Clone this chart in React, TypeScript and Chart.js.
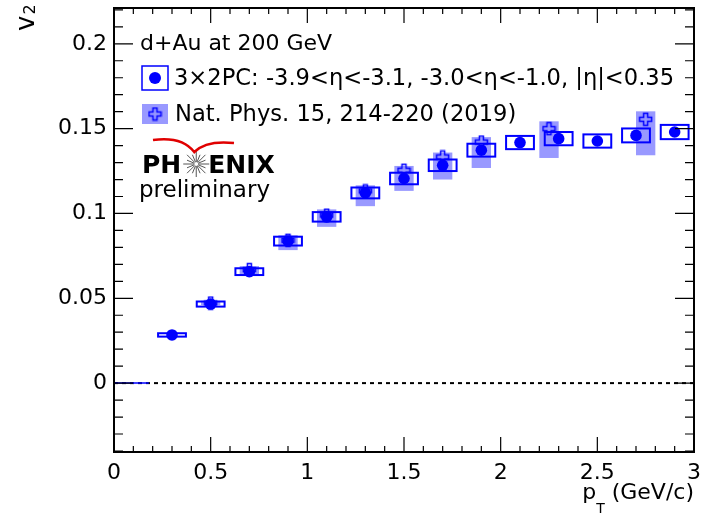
import { useEffect, useRef } from "react";
import { Chart, registerables } from "chart.js";

Chart.register(...registerables);

// ---- data: 3x2PC (this analysis) ----
const pt3x2 = [0.3, 0.5, 0.7, 0.9, 1.1, 1.3, 1.5, 1.7, 1.9, 2.1, 2.3, 2.5, 2.7, 2.9];
const v2_3x2 = [0.0284, 0.0466, 0.0657, 0.0837, 0.098, 0.1121, 0.1206, 0.1284, 0.1373, 0.1418, 0.1441, 0.1427, 0.146, 0.148];
const sys3x2 = [0.001, 0.0015, 0.002, 0.0026, 0.0028, 0.0032, 0.0034, 0.0034, 0.0038, 0.0039, 0.0039, 0.0039, 0.0041, 0.0042];
const boxHalfW3x2 = 0.072;

// ---- data: Nat. Phys. 15, 214-220 (2019) ----
const ptNat = [0.5, 0.7, 0.9, 1.1, 1.3, 1.5, 1.7, 1.9, 2.25, 2.75];
const v2Nat = [0.0472, 0.0669, 0.0842, 0.099, 0.1133, 0.1255, 0.1333, 0.1421, 0.15, 0.1555];
const natLow = [0.046, 0.0635, 0.0784, 0.0921, 0.1043, 0.1133, 0.12, 0.1268, 0.1327, 0.1343];
const natHigh = [0.0485, 0.069, 0.0872, 0.1024, 0.1166, 0.128, 0.1359, 0.145, 0.1543, 0.1602];
const boxHalfWNat = 0.05;

// short blue segment at v2 = 0
const zeroSegX = [0, 0.18];
const zeroSegY = [0, 0];

// ---- axes ----
const xMin = 0;
const xMax = 3;
const yMin = -0.0406;
const yMax = 0.2211;
const xMajorTicks = [0, 0.5, 1, 1.5, 2, 2.5, 3];
const xMinorTicks = [0.1, 0.2, 0.3, 0.4, 0.6, 0.7, 0.8, 0.9, 1.1, 1.2, 1.3, 1.4, 1.6, 1.7, 1.8, 1.9, 2.1, 2.2, 2.3, 2.4, 2.6, 2.7, 2.8, 2.9];
const yMajorTicks = [0, 0.05, 0.1, 0.15, 0.2];
const yMinorTicks = [-0.04, -0.03, -0.02, -0.01, 0.01, 0.02, 0.03, 0.04, 0.06, 0.07, 0.08, 0.09, 0.11, 0.12, 0.13, 0.14, 0.16, 0.17, 0.18, 0.19, 0.21, 0.22];

const FONT = '"DejaVu Sans", sans-serif';
const BLUE = "#0000ff";
const SHADE = "rgba(0,0,255,0.4)";

function makeCross(size: number, color: string) {
  const c = document.createElement("canvas");
  c.width = size + 3;
  c.height = size + 3;
  const g = c.getContext("2d")!;
  const o = 1.5;
  const s = size;
  const a = s / 3;
  g.beginPath();
  g.moveTo(o + a, o);
  g.lineTo(o + 2 * a, o);
  g.lineTo(o + 2 * a, o + a);
  g.lineTo(o + s, o + a);
  g.lineTo(o + s, o + 2 * a);
  g.lineTo(o + 2 * a, o + 2 * a);
  g.lineTo(o + 2 * a, o + s);
  g.lineTo(o + a, o + s);
  g.lineTo(o + a, o + 2 * a);
  g.lineTo(o, o + 2 * a);
  g.lineTo(o, o + a);
  g.lineTo(o + a, o + a);
  g.closePath();
  g.strokeStyle = color;
  g.lineWidth = 1.5;
  g.stroke();
  return c;
}

export default function App() {
  const ref = useRef<HTMLCanvasElement | null>(null);

  useEffect(() => {
    document.body.style.margin = "0";
    const canvas = ref.current!;
    const cross = makeCross(12, BLUE);

    const boxes = {
      id: "boxes",
      beforeDatasetsDraw(chart: any) {
        const { ctx, scales } = chart;
        const x = scales.x;
        const y = scales.y;
        ctx.save();
        // dashed zero line
        ctx.strokeStyle = "#000";
        ctx.lineWidth = 2;
        ctx.setLineDash([4, 4]);
        ctx.beginPath();
        const y0 = y.getPixelForValue(0);
        ctx.moveTo(chart.chartArea.left, y0);
        ctx.lineTo(chart.chartArea.right, y0);
        ctx.stroke();
        ctx.setLineDash([]);
        // shaded boxes
        ctx.fillStyle = SHADE;
        ptNat.forEach((p, i) => {
          const xa = x.getPixelForValue(p - boxHalfWNat);
          const xb = x.getPixelForValue(p + boxHalfWNat);
          const ya = y.getPixelForValue(natHigh[i]);
          const yb = y.getPixelForValue(natLow[i]);
          ctx.fillRect(xa, ya, xb - xa, yb - ya);
        });
        // open boxes
        ctx.strokeStyle = BLUE;
        ctx.lineWidth = 2;
        pt3x2.forEach((p, i) => {
          const xa = x.getPixelForValue(p - boxHalfW3x2);
          const xb = x.getPixelForValue(p + boxHalfW3x2);
          const ya = y.getPixelForValue(v2_3x2[i] + sys3x2[i]);
          const yb = y.getPixelForValue(v2_3x2[i] - sys3x2[i]);
          ctx.strokeRect(xa, ya, xb - xa, yb - ya);
        });
        ctx.restore();
      },
      afterDraw(chart: any) {
        const { ctx, scales, chartArea } = chart;
        const x = scales.x;
        const y = scales.y;
        const { left, right, top, bottom } = chartArea;
        ctx.save();
        // ticks
        ctx.strokeStyle = "#000";
        ctx.lineWidth = 1.2;
        ctx.beginPath();
        const xt = (v: number, len: number) => {
          const px = x.getPixelForValue(v);
          ctx.moveTo(px, bottom);
          ctx.lineTo(px, bottom - len);
          ctx.moveTo(px, top);
          ctx.lineTo(px, top + len);
        };
        const yt = (v: number, len: number) => {
          const py = y.getPixelForValue(v);
          ctx.moveTo(left, py);
          ctx.lineTo(left + len, py);
          ctx.moveTo(right, py);
          ctx.lineTo(right - len, py);
        };
        xMajorTicks.forEach((v) => xt(v, 15));
        xMinorTicks.forEach((v) => xt(v, 6));
        yMajorTicks.forEach((v) => yt(v, 19));
        yMinorTicks.forEach((v) => yt(v, 9));
        ctx.stroke();
        // frame
        ctx.lineWidth = 2;
        ctx.strokeRect(left, top, right - left, bottom - top);

        // axis titles
        ctx.fillStyle = "#000";
        ctx.textBaseline = "alphabetic";
        ctx.textAlign = "left";
        ctx.font = `22px ${FONT}`;
        const wP = ctx.measureText("p").width;
        const wRest = ctx.measureText(" (GeV/c)").width;
        ctx.font = `14px ${FONT}`;
        const wT = ctx.measureText("T").width;
        const sx = right - (wP + wT + wRest);
        ctx.font = `22px ${FONT}`;
        ctx.fillText("p", sx, 499);
        ctx.font = `14px ${FONT}`;
        ctx.fillText("T", sx + wP, 513);
        ctx.font = `22px ${FONT}`;
        ctx.fillText(" (GeV/c)", sx + wP + wT, 499);

        // y title: v_2 rotated
        ctx.save();
        ctx.translate(34, 31);
        ctx.rotate(-Math.PI / 2);
        ctx.font = `26px ${FONT}`;
        ctx.fillText("v", 0, 0);
        const wv = ctx.measureText("v").width;
        ctx.font = `16px ${FONT}`;
        ctx.fillText("2", wv + 1, 1);
        ctx.restore();

        // legend texts
        ctx.font = `22px ${FONT}`;
        ctx.fillText("d+Au at 200 GeV", 140, 50);
        ctx.font = `22.6px ${FONT}`;
        ctx.fillText("3\u00d72PC: -3.9<\u03b7<-3.1, -3.0<\u03b7<-1.0, |\u03b7|<0.35", 174, 85);
        ctx.fillText("Nat. Phys. 15, 214-220 (2019)", 175, 121);

        // legend symbols
        ctx.fillStyle = SHADE;
        ctx.fillRect(142, 104, 26, 20);
        ctx.drawImage(cross, 155 - cross.width / 2, 114 - cross.height / 2);
        ctx.strokeStyle = BLUE;
        ctx.lineWidth = 1.5;
        ctx.strokeRect(142, 66, 26, 24);
        ctx.fillStyle = BLUE;
        ctx.beginPath();
        ctx.arc(155, 78, 6, 0, Math.PI * 2);
        ctx.fill();

        // PHENIX logo
        ctx.fillStyle = "#000";
        ctx.font = `bold 25px ${FONT}`;
        ctx.fillText("PH", 142, 173);
        const wPH = ctx.measureText("PH").width;
        const cx = 142 + wPH + 15;
        const cy = 164;
        ctx.strokeStyle = "#555";
        ctx.lineWidth = 1;
        ctx.beginPath();
        for (let k = 0; k < 16; k++) {
          const ang = (k * Math.PI) / 8;
          const r = k % 2 === 0 ? 13 : 10;
          ctx.moveTo(cx + Math.cos(ang) * 2, cy + Math.sin(ang) * 2);
          ctx.lineTo(cx + Math.cos(ang) * r, cy + Math.sin(ang) * r);
        }
        ctx.stroke();
        ctx.fillText("ENIX", cx + 12, 173);
        // red wing
        ctx.strokeStyle = "#e00000";
        ctx.lineWidth = 2.5;
        ctx.beginPath();
        ctx.moveTo(153, 140);
        ctx.quadraticCurveTo(182, 136, cx - 2, 152);
        ctx.quadraticCurveTo(cx + 10, 140, 234, 143);
        ctx.stroke();
        ctx.fillStyle = "#000";
        ctx.font = `23px ${FONT}`;
        ctx.fillText("preliminary", 139, 197);
        ctx.restore();
      },
    };

    const chart = new Chart(canvas, {
      type: "scatter",
      data: {
        datasets: [
          {
            label: "3x2PC",
            data: pt3x2.map((p, i) => ({ x: p, y: v2_3x2[i] })),
            pointStyle: "circle",
            pointRadius: 5.8,
            backgroundColor: BLUE,
            borderColor: BLUE,
            borderWidth: 0,
            showLine: false,
          },
          {
            label: "Nat. Phys.",
            data: ptNat.map((p, i) => ({ x: p, y: v2Nat[i] })),
            pointStyle: cross as any,
            pointRadius: 7,
            showLine: false,
          },
          {
            label: "zero",
            data: zeroSegX.map((p, i) => ({ x: p, y: zeroSegY[i] })),
            showLine: true,
            borderColor: BLUE,
            borderWidth: 1.5,
            pointRadius: 0,
          },
        ],
      },
      options: {
        animation: false,
        responsive: false,
        layout: { padding: { top: 7.5, right: 7, left: 0, bottom: 0 } },
        plugins: { legend: { display: false }, tooltip: { enabled: false } },
        scales: {
          x: {
            type: "linear",
            min: xMin,
            max: xMax,
            grid: { display: false, drawTicks: false },
            border: { display: false },
            ticks: {
              color: "#000",
              font: { family: FONT, size: 22 },
              padding: 8,
              maxRotation: 0,
              autoSkip: false,
              callback: (v: any) => String(v),
            },
            afterBuildTicks: (s: any) => {
              s.ticks = xMajorTicks.map((v) => ({ value: v }));
            },
            afterFit: (s: any) => {
              s.height = 63;
              s.paddingLeft = 0;
              s.paddingRight = 0;
            },
          },
          y: {
            type: "linear",
            min: yMin,
            max: yMax,
            grid: { display: false, drawTicks: false },
            border: { display: false },
            ticks: {
              color: "#000",
              font: { family: FONT, size: 22 },
              padding: 7,
              autoSkip: false,
              callback: (v: any) => String(v),
            },
            afterBuildTicks: (s: any) => {
              s.ticks = yMajorTicks.map((v) => ({ value: v }));
            },
            afterFit: (s: any) => {
              s.width = 114;
              s.paddingTop = 0;
              s.paddingBottom = 0;
            },
          },
        },
      },
      plugins: [boxes],
    });
    return () => chart.destroy();
  }, []);

  return <canvas ref={ref} width={702} height={515} style={{ display: "block" }} />;
}
